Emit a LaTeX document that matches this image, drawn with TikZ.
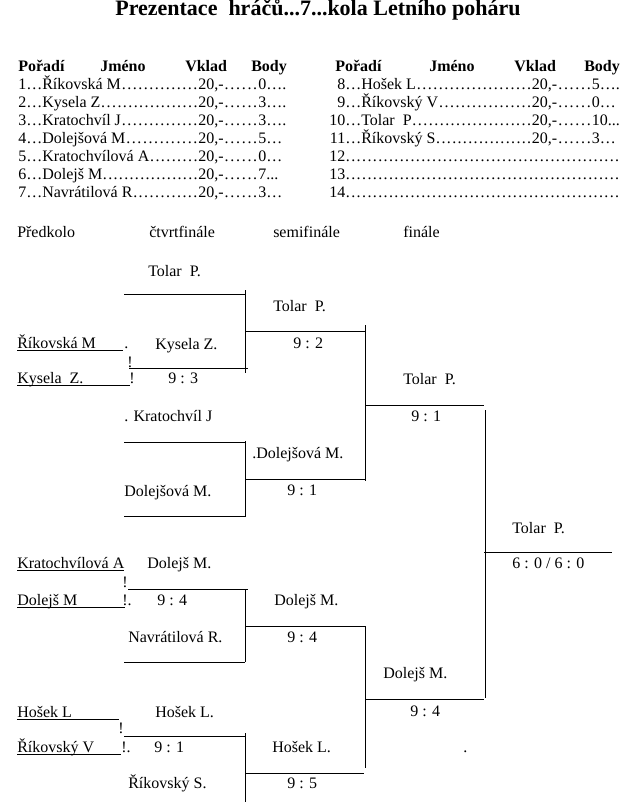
\documentclass[tikz,border=0pt]{standalone}
\usepackage{fontspec}
\setmainfont{Liberation Serif}
\usepackage{tikz}

\newcommand{\tecky}{\xleaders\hbox to 4pt{\hss.\hss}\hfill}
\newcommand{\radek}[5]{\hbox to #1{#2…#3\tecky}#4\hbox to 26pt{\tecky}#5}
\newcommand{\podtrh}[2]{\rlap{\rule[-2pt]{#1}{0.75pt}}#2}

\begin{document}
\begin{tikzpicture}[x=0.75pt, y=-0.75pt,
        txt/.style={anchor=base west, inner sep=0pt, font=\fontsize{12}{14.4}\selectfont},
        hlava/.style={txt, font=\fontsize{12}{14.4}\selectfont\bfseries},
        cara/.style={line width=0.75pt}]
    \useasboundingbox (0,0) rectangle (624,802);
    \node[anchor=base, inner sep=0pt, font=\fontsize{16.5}{20}\selectfont\bfseries] (titulek) at (318,16) {Prezentace\ \ hráčů...7...kola Letního poháru};

    % tabulka
    \node[hlava] (poradiA) at (18,72) {Pořadí};
    \node[hlava] (jmenoA) at (100,72) {Jméno};
    \node[hlava] (vkladA) at (185,72) {Vklad};
    \node[hlava] (bodyA) at (251,72) {Body};
    \node[hlava] (poradiB) at (335,72) {Pořadí};
    \node[hlava] (jmenoB) at (429,72) {Jméno};
    \node[hlava] (vkladB) at (514,72) {Vklad};
    \node[hlava] (bodyB) at (584,72) {Body};

    \node[txt] (r1) at (18,90) {\radek{135pt}{1}{Říkovská M}{20,-}{0….}};
    \node[txt] (r2) at (18,108) {\radek{135pt}{2}{Kysela Z}{20,-}{3….}};
    \node[txt] (r3) at (18,126) {\radek{135pt}{3}{Kratochvíl J}{20,-}{3….}};
    \node[txt] (r4) at (18,144) {\radek{135pt}{4}{Dolejšová M}{20,-}{5…}};
    \node[txt] (r5) at (18,162) {\radek{135pt}{5}{Kratochvílová A}{20,-}{0…}};
    \node[txt] (r6) at (18,180) {\radek{135pt}{6}{Dolejš M}{20,-}{7...}};
    \node[txt] (r7) at (18,198) {\radek{135pt}{7}{Navrátilová R}{20,-}{3…}};

    \node[txt] (r8) at (329,90) {\radek{152pt}{\makebox[12pt][r]{8}}{Hošek L}{20,-}{5….}};
    \node[txt] (r9) at (329,108) {\radek{152pt}{\makebox[12pt][r]{9}}{Říkovský V}{20,-}{0…}};
    \node[txt] (r10) at (329,126) {\radek{152pt}{\makebox[12pt][r]{10}}{Tolar\ \ P}{20,-}{10...}};
    \node[txt] (r11) at (329,144) {\radek{152pt}{\makebox[12pt][r]{11}}{Říkovský S}{20,-}{3…}};
    \node[txt] (r12) at (329,162) {\hbox to 218pt{\makebox[12pt][r]{12}\tecky}};
    \node[txt] (r13) at (329,180) {\hbox to 218pt{\makebox[12pt][r]{13}\tecky}};
    \node[txt] (r14) at (329,198) {\hbox to 218pt{\makebox[12pt][r]{14}\tecky}};

    % pavouk
    \node[txt] (predkolo) at (17,238) {Předkolo};
    \node[txt] (ctvrt) at (149,238) {čtvrtfinále};
    \node[txt] (semi) at (273,238) {semifinále};
    \node[txt] (fin) at (403,238) {finále};

    \node[txt] (p1) at (17,348) {\podtrh{79.5pt}{Říkovská M}};
    \node[txt] (p1t) at (124,348) {.};
    \node[txt] (p1v) at (127,367) {!};
    \node[txt] (p2) at (17,383) {\podtrh{84.75pt}{Kysela\ \ Z.}};
    \node[txt] (p2v) at (129,383) {!};
    \node[txt] (p3) at (17,568) {\podtrh{80pt}{Kratochvílová A}};
    \node[txt] (p3v) at (122,587) {!};
    \node[txt] (p4) at (17,605) {\podtrh{81pt}{Dolejš M}};
    \node[txt] (p4v) at (122,605) {!.};
    \node[txt] (p5) at (17,717) {\podtrh{76.5pt}{Hošek L}};
    \node[txt] (p5v) at (118,733) {!};
    \node[txt] (p6) at (17,752) {\podtrh{78pt}{Říkovský V}};
    \node[txt] (p6v) at (121,752) {!.};

    \node[txt] (c1) at (148,276) {Tolar\ \ P.};
    \node[txt] (c2) at (155,349) {Kysela Z.};
    \node[txt] (c2s) at (168,383) {9 : 3};
    \node[txt] (c3) at (124,421) {. Kratochvíl J};
    \node[txt] (c4) at (124,496) {Dolejšová M.};
    \node[txt] (c5) at (147,568) {Dolejš M.};
    \node[txt] (c5s) at (157,605) {9 : 4};
    \node[txt] (c6) at (128,642) {Navrátilová R.};
    \node[txt] (c7) at (155,717) {Hošek L.};
    \node[txt] (c7s) at (154,752) {9 : 1};
    \node[txt] (c8) at (128,788) {Říkovský S.};

    \node[txt] (s1) at (273,311) {Tolar\ \ P.};
    \node[txt] (s1s) at (293,348) {9 : 2};
    \node[txt] (s2) at (252,458) {.Dolejšová M.};
    \node[txt] (s2s) at (287,495) {9 : 1};
    \node[txt] (s3) at (274,605) {Dolejš M.};
    \node[txt] (s3s) at (287,642) {9 : 4};
    \node[txt] (s4) at (272,752) {Hošek L.};
    \node[txt] (s4s) at (287,788) {9 : 5};

    \node[txt] (f1) at (403,384) {Tolar\ \ P.};
    \node[txt] (f1s) at (411,421) {9 : 1};
    \node[txt] (f2) at (383,678) {Dolejš M.};
    \node[txt] (f2s) at (410,716) {9 : 4};
    \node[txt] (f2t) at (463,752) {.};

    \node[txt] (vitez) at (512,533) {Tolar\ \ P.};
    \node[txt] (vitezs) at (512,568) {6 : 0 / 6 : 0};

    \draw[cara] (124,294) -- (245,294) (245.5,290) -- (245.5,373) (129,368) -- (248,368) (245,331) -- (365,331);
    \draw[cara] (124,442) -- (245,442) (245.5,441) -- (245.5,517) (124,516) -- (245,516) (245,479) -- (365,479);
    \draw[cara] (128,589) -- (248,589) (245.5,589) -- (245.5,662) (124,662) -- (245,662) (245,626) -- (365,626);
    \draw[cara] (124,736) -- (245,736) (245.5,733) -- (245.5,802) (245,773) -- (364,773);
    \draw[cara] (365.5,325) -- (365.5,481) (365,405) -- (484,405);
    \draw[cara] (365.5,626) -- (365.5,768) (365,699) -- (484,699);
    \draw[cara] (485.5,410) -- (485.5,698) (484,552) -- (612,552);
\end{tikzpicture}
\end{document}
